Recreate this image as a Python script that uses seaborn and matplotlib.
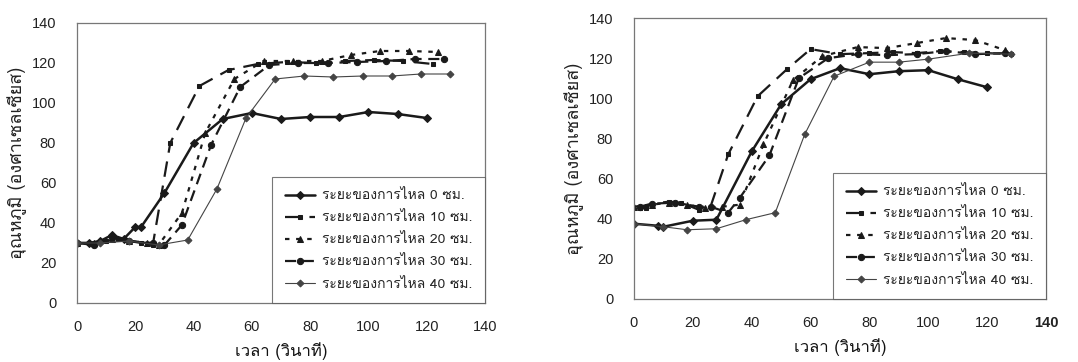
import numpy as np
import pandas as pd
import matplotlib
matplotlib.use("Agg")
import matplotlib.pyplot as plt
import seaborn as sns
from matplotlib import font_manager as fm
from matplotlib.ft2font import FT2Font

# ---------------- data ----------------
series_labels = ["ระยะของการไหล 0 ซม.", "ระยะของการไหล 10 ซม.", "ระยะของการไหล 20 ซม.",
                 "ระยะของการไหล 30 ซม.", "ระยะของการไหล 40 ซม."]
x_label = "เวลา (วินาที)"
y_label = "อุณหภูมิ (องศาเซลเซียส)"
ticks = [0, 20, 40, 60, 80, 100, 120, 140]

# left chart
L0_x = [0, 4, 8, 12, 16, 20, 22, 30, 40, 50, 60, 70, 80, 90, 100, 110, 120]
L0_y = [30, 30, 31, 34, 32, 38, 38, 55, 80, 92, 95, 92, 93, 93, 95.5, 94.5, 92.5]
L10_x = [0, 4, 6, 10, 14, 18, 22, 26, 32, 42, 52, 62, 72, 82, 92, 102, 112, 122]
L10_y = [30, 30, 29, 31, 32, 31, 30, 29, 80, 108.5, 116.5, 119.5, 120.5, 120, 121, 121.5, 121, 119.5]
L20_x = [0, 6, 12, 18, 24, 28, 36, 44, 54, 64, 74, 84, 94, 104, 114, 124]
L20_y = [30, 30, 32, 31, 30, 29, 45, 85, 112, 121, 121, 121, 124, 126, 126, 125.5]
L30_x = [0, 6, 12, 18, 26, 30, 36, 46, 56, 66, 76, 86, 96, 106, 116, 126]
L30_y = [30, 29, 33, 31, 30, 29, 39, 79, 108, 119, 120, 120, 120.5, 121, 122, 122]
L40_x = [0, 8, 18, 28, 38, 48, 58, 68, 78, 88, 98, 108, 118, 128]
L40_y = [30, 30, 31, 29, 31.5, 57, 92.5, 112, 113.5, 113, 113.5, 113.5, 114.5, 114.5]

# right chart
R0_x = [0, 8, 10, 20, 28, 40, 50, 60, 70, 80, 90, 100, 110, 120]
R0_y = [37.5, 36.5, 36, 39, 39.5, 73.5, 97, 109.5, 115, 112, 113.5, 114, 109.5, 105.5]
R10_x = [2, 4, 6, 12, 16, 22, 26, 32, 42, 52, 60, 70, 80, 88, 96, 104, 112, 120, 128]
R10_y = [45.5, 45.5, 47.5, 48.5, 48, 44.5, 46, 72, 101, 114.5, 124.5, 122, 122.5, 123, 122.5, 123.5, 123, 122.5, 122]
R20_x = [0, 6, 12, 18, 24, 30, 36, 44, 54, 64, 76, 86, 96, 106, 116, 126]
R20_y = [46, 47, 48, 47, 45.5, 46, 47, 77, 109, 121, 125.5, 125, 127.5, 130, 129, 124]
R30_x = [2, 6, 14, 22, 26, 32, 36, 46, 56, 66, 76, 86, 96, 106, 116, 126]
R30_y = [46, 47.5, 48, 46, 46, 43, 50.5, 71.5, 110, 120, 122, 121.5, 122, 123.5, 122, 122.5]
R40_x = [0, 10, 18, 28, 38, 48, 58, 68, 80, 90, 100, 114, 128]
R40_y = [37.5, 36, 34.5, 35, 39.5, 43, 82, 111, 118, 118, 119.5, 122.5, 122]

left_series = [(L0_x, L0_y), (L10_x, L10_y), (L20_x, L20_y), (L30_x, L30_y), (L40_x, L40_y)]
right_series = [(R0_x, R0_y), (R10_x, R10_y), (R20_x, R20_y), (R30_x, R30_y), (R40_x, R40_y)]

# ---------------- fonts ----------------
sns.set_style("white")


def find_thai_fonts():
    names = []
    for f in fm.fontManager.ttflist:
        try:
            cm = FT2Font(f.fname).get_charmap()
        except Exception:
            continue
        if 0x0E01 in cm and 0x0E2D in cm and 0x0E35 in cm:
            if f.name not in names:
                names.append(f.name)
    return names


thai = find_thai_fonts()
pref = [n for n in thai if "Sans" in n or "Loma" in n or "Garuda" in n] + thai
fam = (pref[:1] if pref else []) + ["Liberation Sans", "DejaVu Sans"]
plt.rcParams["font.family"] = fam

# ---------------- style ----------------
styles = [
    dict(marker="D", markersize=4, lw=1.8, dashes=None, color="#1a1a1a"),
    dict(marker="s", markersize=3.5, lw=1.6, dashes=(7, 4), color="#1a1a1a"),
    dict(marker="^", markersize=4, lw=1.6, dashes=(2, 3), color="#1a1a1a"),
    dict(marker="o", markersize=4.5, lw=1.6, dashes=(5, 3), color="#1a1a1a"),
    dict(marker="D", markersize=3.5, lw=0.8, dashes=None, color="#444444"),
]

fig = plt.figure(figsize=(10.78, 3.62), dpi=100)
ax1 = fig.add_axes([77 / 1078, 1 - 303 / 362, 408 / 1078, 280 / 362])
ax2 = fig.add_axes([634 / 1078, 1 - 299 / 362, 412 / 1078, 281 / 362])

for ax, data in ((ax1, left_series), (ax2, right_series)):
    for (xs, ys), lab, st in zip(data, series_labels, styles):
        df = pd.DataFrame({"t": xs, "T": ys})
        sns.lineplot(data=df, x="t", y="T", ax=ax, label=lab, color=st["color"],
                     lw=st["lw"], marker=st["marker"], markersize=st["markersize"],
                     markeredgecolor=st["color"], estimator=None, sort=False)
        line = ax.lines[-1]
        if st["dashes"] is not None:
            line.set_dashes(st["dashes"])
    ax.set_xlim(0, 140)
    ax.set_ylim(0, 140)
    ax.set_xticks(ticks)
    ax.set_yticks(ticks)
    ax.set_xticklabels([str(t) for t in ticks], family="Liberation Sans")
    ax.set_yticklabels([str(t) for t in ticks], family="Liberation Sans")
    ax.tick_params(axis="both", direction="out", length=3, width=0.8, colors="#333333",
                   labelsize=10.5, labelcolor="#222222")
    ax.tick_params(axis="x", pad=9)
    ax.tick_params(axis="y", pad=12)
    for sp in ax.spines.values():
        sp.set_color("#777777")
        sp.set_linewidth(0.9)
    ax.set_xlabel(x_label, fontsize=12, color="#111111", labelpad=6)
    ax.set_ylabel(y_label, fontsize=13, color="#222222", labelpad=3)
    leg = ax.legend(loc="lower right", borderaxespad=0, frameon=True, fancybox=False,
                    edgecolor="#555555", fontsize=10, handlelength=2.2,
                    labelspacing=0.65, borderpad=0.9, handletextpad=0.5)
    leg.get_frame().set_linewidth(0.8)

# the last x tick label of the right chart appears in bold in the reference
ax2.get_xticklabels()[-1].set_fontweight("bold")

fig.savefig("out.png", dpi=100, facecolor="white")
